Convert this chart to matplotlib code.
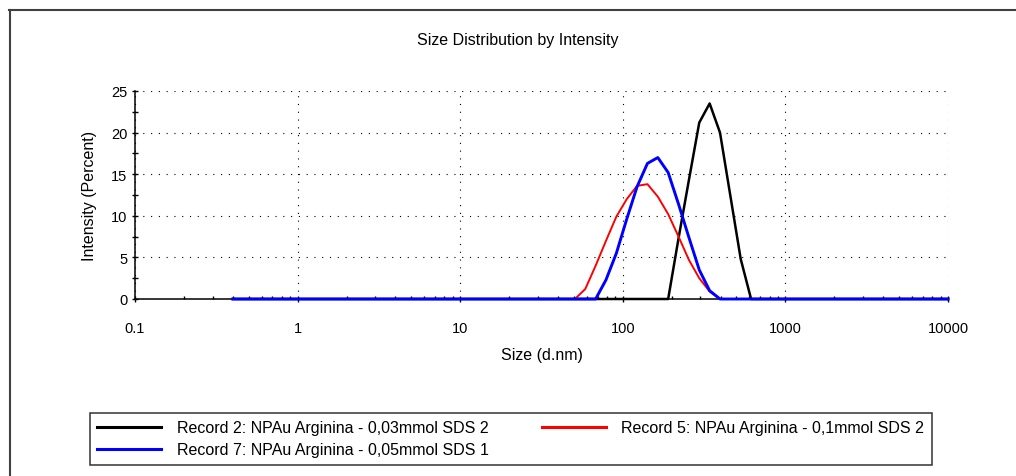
import matplotlib
matplotlib.use("Agg")
import matplotlib.pyplot as plt
from matplotlib.lines import Line2D
from matplotlib.ticker import LogLocator, MultipleLocator, FixedLocator, NullFormatter

plt.rcParams['font.family'] = ['Liberation Sans', 'DejaVu Sans']

# Size bins (d.nm)
sizes = [0.4, 0.4632, 0.5365, 0.6213, 0.7195, 0.8332, 0.9649, 1.117, 1.294, 1.499,
         1.736, 2.010, 2.328, 2.696, 3.122, 3.615, 4.187, 4.849, 5.615, 6.503,
         7.531, 8.721, 10.10, 11.70, 13.54, 15.69, 18.17, 21.04, 24.36, 28.21,
         32.67, 37.84, 43.82, 50.75, 58.77, 68.06, 78.82, 91.28, 105.7, 122.4,
         141.8, 164.2, 190.1, 220.2, 255.0, 295.3, 342.0, 396.1, 458.7, 531.2,
         615.1, 712.4, 825.0, 955.4, 1106, 1281, 1484, 1718, 1990, 2305,
         2669, 3091, 3580, 4145, 4801, 5560, 6439, 7456, 8635, 10000]

# Intensity (%) per bin, nonzero region only (other bins are 0)
rec2_start = 42
rec2_vals = [0.0, 7.3, 14.3, 21.2, 23.5, 20.0, 12.4, 4.8, 0.0]
rec5_start = 33
rec5_vals = [0.0, 1.2, 4.0, 7.0, 9.9, 12.0, 13.6, 13.8, 12.3, 10.2, 7.5, 4.7, 2.5, 0.9, 0.0]
rec7_start = 35
rec7_vals = [0.0, 2.3, 5.5, 9.6, 13.5, 16.3, 17.0, 15.2, 11.4, 7.4, 3.5, 1.0, 0.0]

labels = ["Record 2: NPAu Arginina - 0,03mmol SDS 2",
          "Record 5: NPAu Arginina - 0,1mmol SDS 2",
          "Record 7: NPAu Arginina - 0,05mmol SDS 1"]
colors = ["#000000", "#ff0000", "#0000ff"]

x_ticks = [0.1, 1, 10, 100, 1000, 10000]
x_ticklabels = ["0.1", "1", "10", "100", "1000", "10000"]
y_ticks = [0, 5, 10, 15, 20, 25]


def full(start, vals):
    out = [0.0] * len(sizes)
    out[start:start + len(vals)] = vals
    return out


rec2 = full(rec2_start, rec2_vals)
rec5 = full(rec5_start, rec5_vals)
rec7 = full(rec7_start, rec7_vals)

W, H = 1016, 477
TXT = 11.5
TICK = 10.5
fig = plt.figure(figsize=(W / 100, H / 100), dpi=100)
ax = fig.add_axes([135 / W, 1 - 300 / H, 813 / W, 208 / H])

l2, = ax.plot(sizes, rec2, color=colors[0], lw=1.8, clip_on=False, zorder=3)
l5, = ax.plot(sizes, rec5, color=colors[1], lw=1.4, clip_on=False, zorder=4)
l7, = ax.plot(sizes, rec7, color=colors[2], lw=2.1, clip_on=False, zorder=5)

ax.set_xscale('log')
ax.set_xlim(0.1, 10000)
ax.set_ylim(0, 25)
ax.xaxis.set_major_locator(FixedLocator(x_ticks))
ax.set_xticklabels(x_ticklabels)
ax.xaxis.set_minor_locator(LogLocator(base=10, subs=range(2, 10), numticks=20))
ax.xaxis.set_minor_formatter(NullFormatter())
ax.set_yticks(y_ticks)
ax.yaxis.set_minor_locator(MultipleLocator(2.5))

for s in ['top', 'right']:
    ax.spines[s].set_visible(False)
for s in ['left', 'bottom']:
    ax.spines[s].set_linewidth(1.1)
    ax.spines[s].set_color('black')

ax.tick_params(axis='y', which='major', direction='inout', length=5, width=1, labelsize=TICK, pad=3)
ax.tick_params(axis='y', which='minor', direction='inout', length=5, width=1)
ax.tick_params(axis='x', which='major', direction='inout', length=5, width=1, labelsize=TICK, pad=13)
ax.tick_params(axis='x', which='minor', direction='in', length=2.5, width=1)

ax.grid(True, which='major', color='black', linestyle=(0, (1, 6)), linewidth=0.8)
ax.set_axisbelow(True)

ax.set_xlabel("Size (d.nm)", fontsize=TXT, labelpad=9)
ax.set_ylabel("Intensity (Percent)", fontsize=TXT, labelpad=10)

fig.text(518 / W, 1 - 40 / H, "Size Distribution by Intensity", fontsize=TXT,
         ha='center', va='center')

# outer frame lines
fig.add_artist(Line2D([9 / W, 1.0], [1 - 10.5 / H, 1 - 10.5 / H], transform=fig.transFigure,
                      color='#404040', lw=1.5))
fig.add_artist(Line2D([9.5 / W, 9.5 / W], [0, 1 - 10.5 / H], transform=fig.transFigure,
                      color='#404040', lw=1.5))

leg = fig.legend([l2, l7, l5], [labels[0], labels[2], labels[1]], ncol=2,
                 loc='upper left', bbox_to_anchor=(90 / W, 1 - 414 / H),
                 borderaxespad=0, fontsize=TXT, frameon=True, fancybox=False,
                 edgecolor='black', handlelength=4.0, handletextpad=1.0,
                 columnspacing=3.3, borderpad=0.45, labelspacing=0.45)
leg.get_frame().set_linewidth(1.1)
for h in leg.legend_handles:
    h.set_linewidth(2.2)

fig.savefig("out.png", dpi=100)
